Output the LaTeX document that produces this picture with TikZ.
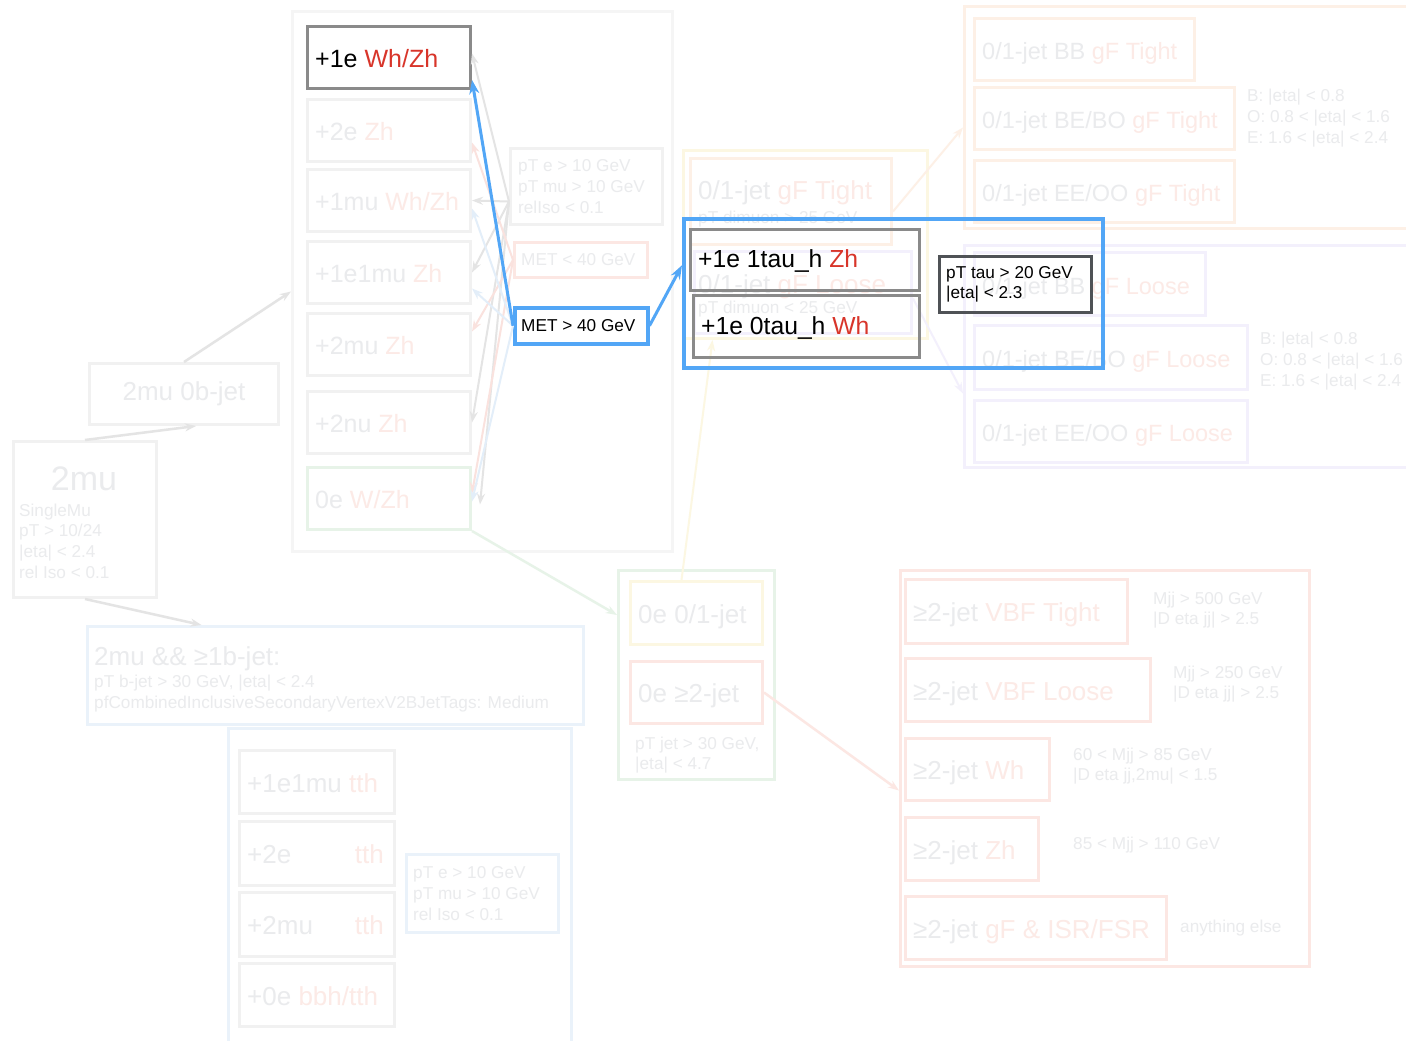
\documentclass[tikz,border=0pt]{standalone}
\usepackage{fontspec}
\setmainfont{Liberation Sans}
\usetikzlibrary{arrows.meta,calc}
\definecolor{hgrey}{HTML}{8A8A8A}
\definecolor{hblue}{HTML}{52A6F6}
\definecolor{hred}{HTML}{D8352A}
\definecolor{hdark}{HTML}{4F5256}
\definecolor{fline}{HTML}{F1F1F1}
\definecolor{fgroup}{HTML}{F5F5F5}
\definecolor{ftext}{HTML}{EAEBED}
\definecolor{fred}{HTML}{FCEAE6}
\definecolor{fredline}{HTML}{FCE7E3}
\definecolor{fblue}{HTML}{EAF2FA}
\definecolor{fgreen}{HTML}{E7F3E8}
\definecolor{forange}{HTML}{FDF0E6}
\definecolor{fyellow}{HTML}{FCF7E2}
\definecolor{fpurple}{HTML}{F3F0FC}
\definecolor{farrow}{HTML}{E4E4E4}
\definecolor{farred}{HTML}{FAE2DE}
\definecolor{farblue}{HTML}{E3EEF9}
\newcommand\bigsz{\fontsize{26}{30}\selectfont}
\newcommand\lepsz{\fontsize{25}{30}\selectfont}
\newcommand\rsz{\fontsize{23.5}{28}\selectfont}
\newcommand\tausz{\fontsize{24.7}{29}\selectfont}
\newcommand\smsz{\fontsize{17.2}{20.6}\selectfont}
\newcommand\bl[3][]{\node[tx,#1] (#2t) at ([xshift=9,yshift=-10]#2.west) {#3};}
\begin{document}
\begin{tikzpicture}[x=1pt,y=-1pt,
  box/.style 2 args={draw, rectangle, line width=3pt, anchor=north west, inner sep=0pt, minimum width=#1, minimum height=#2},
  grp/.style={draw, rectangle, line width=3pt, anchor=north west, inner sep=0pt},
  tx/.style={anchor=base west, inner sep=0pt, font=\bigsz, text=ftext},
  lbl/.style={anchor=west, align=left, inner sep=0pt, font=\smsz, text=ftext},
  sl/.style={anchor=base west, inner sep=0pt, font=\smsz, text=ftext},
  farr/.style={line width=2pt, -{Stealth[length=11pt,width=8pt]}},
  harr/.style={line width=3pt, draw=hblue, -{Stealth[length=14pt,width=10pt]}},
]
\fill[white] (0,0) rectangle (1406,1041);
\useasboundingbox (0,0) rectangle (1406,1041);
\clip (0,0) rectangle (1406,1041);

% ---------- left ----------
\node[grp, draw=fline, minimum width=143, minimum height=156] (twomu) at (12,440) {};
\node[text=ftext, font=\fontsize{34}{38}\selectfont, inner sep=0pt] (twomut) at (84,479) {2mu};
\node[lbl] (twomus) at (19,541) {SingleMu\\pT > 10/24\\|eta| < 2.4\\rel Iso < 0.1};
\node[box={189}{61}, draw=fline] (zerob) at (88,362) {};
\node[text=ftext, font=\bigsz, inner sep=0pt] (zerobt) at (zerob.center) {2mu 0b-jet};

% ---------- group 1 ----------
\node[grp, draw=fgroup, minimum width=380, minimum height=540] (g1) at (291,10) {};
\node[box={163}{62}, draw=fline] (le2) at (306,98) {};
\bl[font=\lepsz]{le2}{+2e {\color{fred}Zh}}
\node[box={163}{62}, draw=fline] (lmu1) at (306,168) {};
\bl[font=\lepsz]{lmu1}{+1mu {\color{fred}Wh/Zh}}
\node[box={163}{62}, draw=fline] (le1mu1) at (306,240) {};
\bl[font=\lepsz]{le1mu1}{+1e1mu {\color{fred}Zh}}
\node[box={163}{62}, draw=fline] (lmu2) at (306,312) {};
\bl[font=\lepsz]{lmu2}{+2mu {\color{fred}Zh}}
\node[box={163}{62}, draw=fline] (lnu2) at (306,390) {};
\bl[font=\lepsz]{lnu2}{+2nu {\color{fred}Zh}}
\node[box={163}{62}, draw=fgreen] (le0) at (306,466) {};
\bl[font=\lepsz]{le0}{0e {\color{fred}W/Zh}}

\node[box={152}{76}, draw=fline] (cond1) at (509,147) {};
\node[lbl] (cond1t) at ([xshift=9]cond1.west) {pT e > 10 GeV\\pT mu > 10 GeV\\relIso < 0.1};
\node[box={133}{35}, draw=fredline] (metlo) at (513,241) {};
\node[lbl] (metlot) at ([xshift=8]metlo.west) {MET < 40 GeV};

% ---------- middle faded group ----------
\node[grp, draw=fyellow, minimum width=244, minimum height=188] (gmid) at (682,149) {};
\node[box={201}{86}, draw=forange] (gft) at (689,157) {};
\node[tx] (gftt) at ([xshift=9,yshift=-42]gft.north west) {0/1-jet {\color{fred}gF Tight}};
\node[sl] (gfts) at ([xshift=9,yshift=-66]gft.north west) {pT dimuon > 25 GeV};
\node[box={217}{82}, draw=fpurple] (gfl) at (693,250) {};
\node[tx] (gflt) at ([xshift=5,yshift=-43]gfl.north west) {0/1-jet {\color{fred}gF Loose}};
\node[sl] (gfls) at ([xshift=5,yshift=-63]gfl.north west) {pT dimuon < 25 GeV};

% ---------- right top (tight) ----------
\node[grp, draw=forange, minimum width=460, minimum height=222] (gtop) at (963,5) {};
\node[box={220}{62}, draw=forange] (bbt) at (973,17) {};
\bl[font=\rsz]{bbt}{0/1-jet BB {\color{fred}gF Tight}}
\node[box={260}{62}, draw=forange] (bet) at (973,86) {};
\bl[font=\rsz]{bet}{0/1-jet BE/BO {\color{fred}gF Tight}}
\node[box={260}{62}, draw=forange] (eet) at (973,159) {};
\bl[font=\rsz]{eet}{0/1-jet EE/OO {\color{fred}gF Tight}}
\node[lbl] (etat) at (1247,118) {B: |eta| < 0.8\\O: 0.8 < |eta| < 1.6\\E: 1.6 < |eta| < 2.4};

% ---------- right middle (loose) ----------
\node[grp, draw=fpurple, minimum width=460, minimum height=222] (gloose) at (963,244) {};
\node[box={231}{63}, draw=fpurple] (bbl) at (973,251) {};
\bl[font=\rsz]{bbl}{0/1-jet BB {\color{fred}gF Loose}}
\node[box={273}{64}, draw=fpurple] (bel) at (973,324) {};
\bl[font=\rsz]{bel}{0/1-jet BE/BO {\color{fred}gF Loose}}
\node[box={273}{62}, draw=fpurple] (eel) at (973,399) {};
\bl[font=\rsz]{eel}{0/1-jet EE/OO {\color{fred}gF Loose}}
\node[lbl] (etal) at (1260,361) {B: |eta| < 0.8\\O: 0.8 < |eta| < 1.6\\E: 1.6 < |eta| < 2.4};

% ---------- bottom middle (0e) ----------
\node[grp, draw=fgreen, minimum width=156, minimum height=209] (gzero) at (617,569) {};
\node[box={132}{63}, draw=fyellow] (z01) at (629,580) {};
\bl{z01}{0e 0/1-jet}
\node[box={132}{62}, draw=fredline] (z2) at (629,660) {};
\bl{z2}{0e ≥2-jet}
\node[lbl] (zt) at (635,755) {pT jet > 30 GeV,\\|eta| < 4.7};

% ---------- bottom right (>=2 jet) ----------
\node[grp, draw=fredline, minimum width=409, minimum height=396] (gvbf) at (899,569) {};
\node[box={222}{64}, draw=fredline] (v1) at (904,578) {};
\bl{v1}{≥2-jet {\color{fred}VBF Tight}}
\node[lbl] (v1t2) at (1153,610) {Mjj > 500 GeV\\|D eta jj| > 2.5};
\node[box={245}{63}, draw=fredline] (v2) at (904,657) {};
\bl{v2}{≥2-jet {\color{fred}VBF Loose}}
\node[lbl] (v2t2) at (1173,684) {Mjj > 250 GeV\\|D eta jj| > 2.5};
\node[box={144}{62}, draw=fredline] (v3) at (904,737) {};
\bl{v3}{≥2-jet {\color{fred}Wh}}
\node[lbl] (v3t2) at (1073,766) {60 < Mjj > 85 GeV\\|D eta jj,2mu| < 1.5};
\node[box={133}{63}, draw=fredline] (v4) at (904,816) {};
\bl{v4}{≥2-jet {\color{fred}Zh}}
\node[lbl] (v4t2) at (1073,845) {85 < Mjj > 110 GeV};
\node[box={261}{63}, draw=fredline] (v5) at (904,895) {};
\bl{v5}{≥2-jet {\color{fred}gF \& ISR/FSR}}
\node[lbl] (v5t2) at (1180,928) {anything else};

% ---------- bottom left (b-jet) ----------
\node[box={496}{98}, draw=fblue] (bjet) at (86,625) {};
\node[tx] (bjett) at ([xshift=8,yshift=-40]bjet.north west) {2mu \&\& ≥1b-jet:};
\node[sl] (bjets1) at ([xshift=8,yshift=-62]bjet.north west) {pT b-jet > 30 GeV, |eta| < 2.4};
\node[sl] (bjets2) at ([xshift=8,yshift=-83]bjet.north west) {pfCombinedInclusiveSecondaryVertexV2BJetTags: Medium};
\node[grp, draw=fblue, minimum width=343, minimum height=340] (gtth) at (227,727) {};
\node[box={155}{63}, draw=fline] (t1) at (238,749) {};
\bl{t1}{+1e1mu {\color{fred}tth}}
\node[box={155}{64}, draw=fline] (t2) at (238,820) {};
\bl{t2}{+2e}
\node[tx, anchor=base east, text=fred] (t2r) at ([xshift=-12,yshift=-10]t2.east) {tth};
\node[box={155}{64}, draw=fline] (t3) at (238,891) {};
\bl{t3}{+2mu}
\node[tx, anchor=base east, text=fred] (t3r) at ([xshift=-12,yshift=-10]t3.east) {tth};
\node[box={155}{63}, draw=fline] (t4) at (238,962) {};
\bl{t4}{+0e {\color{fred}bbh/tth}}
\node[box={152}{78}, draw=fblue] (tc) at (405,853) {};
\node[lbl] (tct) at ([xshift=8]tc.west) {pT e > 10 GeV\\pT mu > 10 GeV\\rel Iso < 0.1};

% ---------- highlighted nodes used by the fan ----------
\node[box={163}{62}, draw=hgrey] (le1) at (306,25) {};
\bl[font=\lepsz, text=black]{le1}{+1e {\color{hred}Wh/Zh}}
\node[box={133}{36}, draw=hblue, line width=3.5pt] (methi) at (513,306) {};
\node[lbl, text=black] (methit) at ([xshift=8]methi.west) {MET > 40 GeV};

% ---------- faded connectors ----------
\draw[farr, draw=farrow, line width=2.5pt] (twomu.north) -- ([xshift=12]zerob.south);
\draw[farr, draw=farrow, line width=2.5pt] (zerob.north) -- ([yshift=-10]g1.west);
\draw[farr, draw=farrow, line width=2.5pt] (twomu.south) -- ([xshift=-134]bjet.north);
\draw[farr, draw=fgreen, line width=2.5pt] (le0.south east) -- ([yshift=60]gzero.west);
\draw[farr, draw=fyellow] ([xshift=-15]z01.north) -- ([xshift=-93]gmid.south);
\draw[farr, draw=fredline, line width=2.5pt] (z2.east) -- ([yshift=-22]gvbf.west);
\draw[farr, draw=forange] ([yshift=-10]gft.east) -- ([yshift=-10]gtop.west);
\draw[farr, draw=fpurple] ([yshift=-6]gfl.east) -- ([yshift=-37]gloose.west);

\coordinate (fanA) at ([yshift=-15]cond1.west);
\draw[farr, draw=farrow] (fanA) -- ([yshift=4]le1.east);
\draw[farr, draw=farrow] (fanA) -- (lmu1.east);
\draw[farr, draw=farrow] (fanA) -- (le1mu1.east);
\draw[farr, draw=farrow] (fanA) -- (lnu2.east);
\draw[farr, draw=farrow] (fanA) -- ([xshift=8,yshift=-6]le0.east);
\draw[farr, draw=farred] (metlo.west) -- ([yshift=-12]le2.east);
\draw[farr, draw=farred] (metlo.west) -- ([yshift=13]lmu2.east);
\draw[farr, draw=farred] (metlo.west) -- ([yshift=5]le0.east);
\draw[farr, draw=farblue] (methi.west) -- ([yshift=-8]lmu1.east);
\draw[farr, draw=farblue] (methi.west) -- ([yshift=-16]le1mu1.east);
\draw[farr, draw=farblue] (methi.west) -- ([yshift=-3]le0.east);

% ---------- highlighted ----------
\node[grp, draw=hblue, line width=3.5pt, minimum width=419, minimum height=149] (hbox) at (682,217) {};
\node[box={229}{61}, draw=hgrey] (tau1) at (689,228) {};
\node[tx, font=\tausz, text=black] (tau1t) at ([xshift=9,yshift=-7]tau1.west) {+1e 1tau\_h {\color{hred}Zh}};
\node[box={226}{62}, draw=hgrey] (tau0) at (692,294) {};
\node[tx, font=\tausz, text=black] (tau0t) at ([xshift=9,yshift=-8]tau0.west) {+1e 0tau\_h {\color{hred}Wh}};
\node[box={152}{56}, draw=hdark] (taucond) at (938,255) {};
\node[lbl, text=black] (taucondt) at ([xshift=8]taucond.west) {pT tau > 20 GeV\\|eta| < 2.3};
\draw[harr] (methi.west) -- ([yshift=10]le1.south east);
\draw[harr] (methi.east) -- ([yshift=28]hbox.west);
\end{tikzpicture}
\end{document}
